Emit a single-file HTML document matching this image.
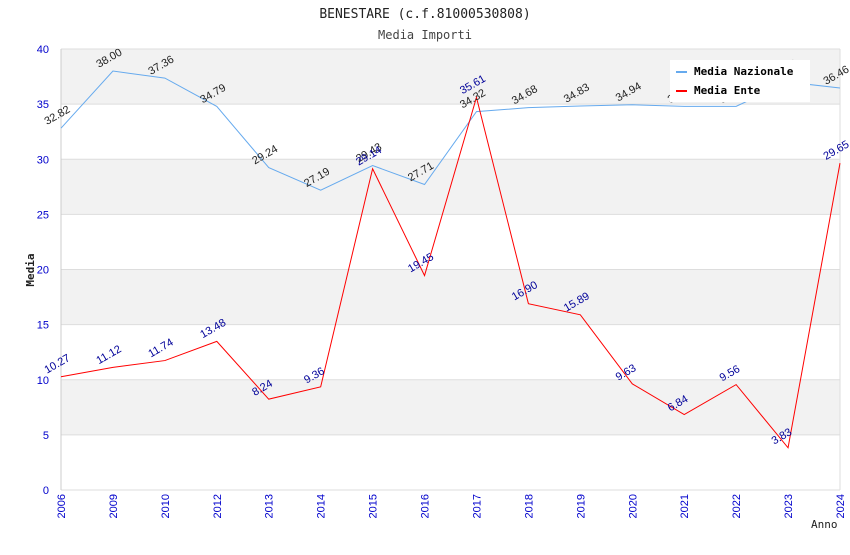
<!DOCTYPE html>
<html><head><meta charset="utf-8"><style>
body{margin:0;background:#fff;width:850px;height:550px;overflow:hidden}
</style></head><body>
<svg id="chart" width="850" height="550" xmlns="http://www.w3.org/2000/svg" font-family="'Liberation Sans', sans-serif">
<text x="425" y="18" text-anchor="middle" font-family="'DejaVu Sans Mono', monospace" font-size="13" fill="#222">BENESTARE (c.f.81000530808)</text>
<text x="425" y="39" text-anchor="middle" font-family="'DejaVu Sans Mono', monospace" font-size="12" fill="#444">Media Importi</text>
<g id="bands"></g><g id="axes"></g><g id="series"></g><g id="labels"></g>
<g>
<rect x="670" y="60" width="140" height="42" fill="#fff"/>
<line x1="676" y1="72" x2="687" y2="72" stroke="#66aaee" stroke-width="2"/>
<text x="694" y="75" font-family="'DejaVu Sans Mono', monospace" font-size="11" font-weight="bold" fill="#000">Media Nazionale</text>
<line x1="676" y1="91" x2="687" y2="91" stroke="#ff0000" stroke-width="2"/>
<text x="694" y="94" font-family="'DejaVu Sans Mono', monospace" font-size="11" font-weight="bold" fill="#000">Media Ente</text>
</g>
<text transform="translate(34,270) rotate(-90)" text-anchor="middle" font-family="'DejaVu Sans Mono', monospace" font-size="11" font-weight="bold" fill="#222">Media</text>
<text x="811" y="528" font-family="'DejaVu Sans Mono', monospace" font-size="11" fill="#222">Anno</text>
</svg>
<script>
const categories=["2006","2009","2010","2012","2013","2014","2015","2016","2017","2018","2019","2020","2021","2022","2023","2024"];
const nazionale=[32.82,38.00,37.36,34.79,29.24,27.19,29.43,27.71,34.32,34.68,34.83,34.94,34.8,34.8,37.0,36.46];
const ente=[10.27,11.12,11.74,13.48,8.24,9.36,29.14,19.45,35.61,16.90,15.89,9.63,6.84,9.56,3.83,29.65];
const yTicks=[0,5,10,15,20,25,30,35,40];
const NS="http://www.w3.org/2000/svg";
const L=61,R=840,T=49,B=490,YMAX=40;
const xs=i=>L+i*(R-L)/(categories.length-1);
const ys=v=>B-v/YMAX*(B-T);
function mk(tag,attrs,parent){const e=document.createElementNS(NS,tag);for(const k in attrs)e.setAttribute(k,attrs[k]);document.getElementById(parent).appendChild(e);return e;}
for(let i=0;i<yTicks.length-1;i++){
  const r=mk('rect',{x:L,y:ys(yTicks[i+1]),width:R-L,height:ys(yTicks[i])-ys(yTicks[i+1]),fill:(i%2==1)?'#f2f2f2':'#fff'},'bands');
  
  
}
yTicks.forEach(v=>{
  const l=mk('line',{x1:L,x2:R,y1:ys(v),y2:ys(v),stroke:'#ddd'},'axes');
  
  
  const t=mk('text',{x:L-12,y:ys(v)+4,'text-anchor':'end','font-size':11,fill:'#0000cc'},'axes');
  t.textContent=v;
  
  
});
mk('line',{x1:L,x2:L,y1:T,y2:B,stroke:'#ccc'},'axes');
mk('line',{x1:R,x2:R,y1:T,y2:B,stroke:'#ddd'},'axes');
categories.forEach((c,i)=>{
  const t=mk('text',{transform:`translate(${xs(i)+4},${B+4}) rotate(-90)`,'text-anchor':'end','font-size':11,fill:'#0000cc'},'axes');
  t.textContent=c;
  
  
});
function series(vals,color,lc,name){
  const p=mk('polyline',{points:vals.map((v,i)=>xs(i)+','+ys(v)).join(' '),fill:'none',stroke:color,'stroke-width':1},'series');
  
  
  vals.forEach((v,i)=>{
    const t=mk('text',{transform:`translate(${xs(i)-14},${ys(v)-3}) rotate(-30)`,'font-size':11,fill:lc},'labels');
    t.textContent=v.toFixed(2);
    
    
  });
}
series(nazionale,'#66aaee','#222','nazionale');
series(ente,'#ff0000','#000099','ente');
</script>
</body></html>
